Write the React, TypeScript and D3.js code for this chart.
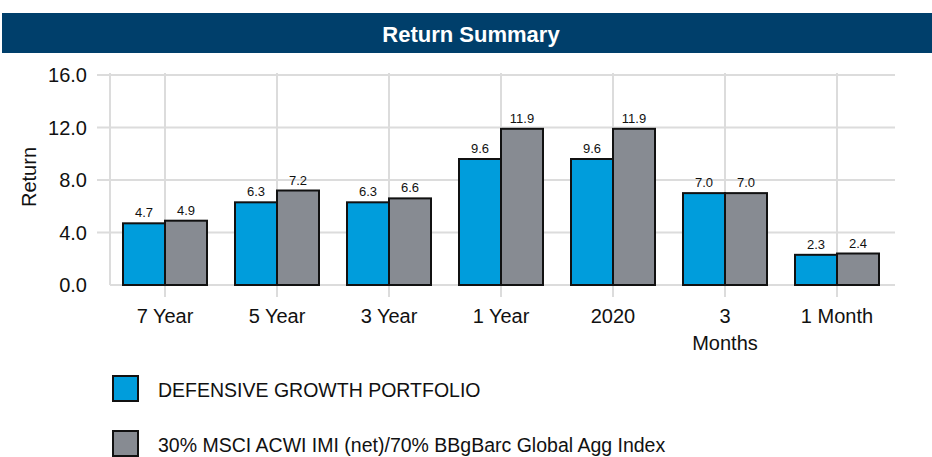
import React from "react";
import * as d3 from "d3";

const categories = ["7 Year", "5 Year", "3 Year", "1 Year", "2020", "3 Months", "1 Month"];
const categoryLines = [["7 Year"], ["5 Year"], ["3 Year"], ["1 Year"], ["2020"], ["3", "Months"], ["1 Month"]];
const portfolio = [4.7, 6.3, 6.3, 9.6, 9.6, 7.0, 2.3];
const benchmark = [4.9, 7.2, 6.6, 11.9, 11.9, 7.0, 2.4];
const seriesNames = ["DEFENSIVE GROWTH PORTFOLIO", "30% MSCI ACWI IMI (net)/70% BBgBarc Global Agg Index"];
const seriesColors = ["#009DDC", "#878B92"];
const yTicks = [0, 4, 8, 12, 16];

const W = 932;
const H = 457;
const FONT = "Arial, 'Liberation Sans', Helvetica, sans-serif";

export default function App() {
  const x0 = d3.scaleBand<string>().domain(categories).range([109, 893]).paddingInner(0.25).paddingOuter(0.125);
  const x1 = d3.scaleBand<string>().domain(["p", "b"]).range([0, x0.bandwidth()]);
  const y = d3.scaleLinear().domain([0, 16]).range([285, 75]);
  const series = [portfolio, benchmark];
  const keys = ["p", "b"];

  return (
    <div style={{ position: "absolute", left: 0, top: 0 }}>
      <svg width={W} height={H} style={{ display: "block", fontFamily: FONT }}>
        <rect x={0} y={0} width={W} height={H} fill="#fff" />
        <rect x={2} y={13} width={930} height={40} fill="#003F6B" />
        <text x={471} y={41.5} textAnchor="middle" fill="#fff" fontWeight="bold" fontSize={22}>
          Return Summary
        </text>

        {/* gridlines */}
        {yTicks.map((t) => (
          <line key={"h" + t} x1={t === 0 ? 110 : 97} x2={895} y1={y(t)} y2={y(t)} stroke="#dcdcdc" strokeWidth={2} />
        ))}
        <line x1={110} x2={110} y1={73} y2={285} stroke="#dcdcdc" strokeWidth={2} />
        {categories.map((c) => (
          <line key={"v" + c} x1={x0(c)! + x0.bandwidth() / 2} x2={x0(c)! + x0.bandwidth() / 2} y1={73} y2={297} stroke="#dcdcdc" strokeWidth={2} />
        ))}

        {/* y tick labels */}
        {yTicks.map((t) => (
          <text key={"yl" + t} x={87} y={y(t) + 7} textAnchor="end" fontSize={20} fill="#111">
            {t.toFixed(1)}
          </text>
        ))}
        <text transform={`translate(36,177) rotate(-90)`} textAnchor="middle" fontSize={20} fill="#111">
          Return
        </text>

        {/* bars */}
        {categories.map((c, i) => (
          <g key={"g" + c} transform={`translate(${x0(c)},0)`}>
            {series.map((s, k) => (
              <g key={k}>
                <rect
                  x={x1(keys[k])!}
                  y={y(s[i])}
                  width={x1.bandwidth()}
                  height={y(0) - y(s[i])}
                  fill={seriesColors[k]}
                  stroke="#111"
                  strokeWidth={2}
                />
                <text x={x1(keys[k])! + x1.bandwidth() / 2} y={y(s[i]) - 6} textAnchor="middle" fontSize={13} fill="#111">
                  {s[i].toFixed(1)}
                </text>
              </g>
            ))}
          </g>
        ))}

        {/* x labels */}
        {categories.map((c, i) => (
          <text key={"xl" + c} x={x0(c)! + x0.bandwidth() / 2} y={323} textAnchor="middle" fontSize={20} fill="#111">
            {categoryLines[i].map((ln, j) => (
              <tspan key={j} x={x0(c)! + x0.bandwidth() / 2} dy={j === 0 ? 0 : 27}>
                {ln}
              </tspan>
            ))}
          </text>
        ))}

        {/* legend */}
        {seriesNames.map((n, k) => (
          <g key={"lg" + k} transform={`translate(0,${376 + k * 55})`}>
            <rect x={113} y={0} width={25} height={25} fill={seriesColors[k]} stroke="#111" strokeWidth={2} />
            <text x={158} y={21} fontSize={19.5} fill="#111">
              {n}
            </text>
          </g>
        ))}
      </svg>
    </div>
  );
}
